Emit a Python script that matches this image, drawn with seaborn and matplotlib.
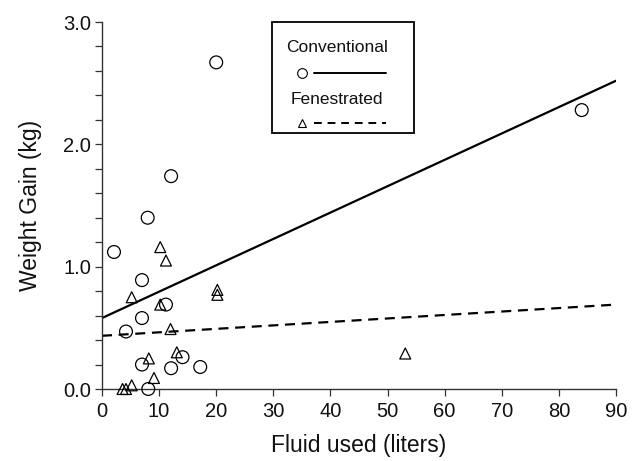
import numpy as np
import pandas as pd
import matplotlib
matplotlib.use("Agg")
import matplotlib.pyplot as plt
import seaborn as sns
from matplotlib.patches import Rectangle
from matplotlib.lines import Line2D
from matplotlib.ticker import MultipleLocator, FormatStrFormatter

# ---- data ----
conv_fluid = [2.1, 4.2, 7.0, 7.0, 7.0, 8.0, 8.1, 11.2, 12.1, 12.1, 14.1, 17.2, 20.0, 84.0]
conv_gain = [1.12, 0.47, 0.89, 0.58, 0.20, 1.40, 0.00, 0.69, 1.74, 0.17, 0.26, 0.18, 2.67, 2.28]
fen_fluid = [3.6, 4.2, 5.2, 5.2, 8.2, 9.1, 10.2, 10.2, 11.2, 12.0, 13.1, 20.2, 20.2, 53.1]
fen_gain = [0.00, 0.00, 0.03, 0.75, 0.25, 0.09, 1.16, 0.69, 1.05, 0.49, 0.30, 0.81, 0.77, 0.29]

fit_x = [0, 90]
conv_fit_y = [0.58, 2.52]
fen_fit_y = [0.435, 0.69]

x_ticks = [0, 10, 20, 30, 40, 50, 60, 70, 80, 90]
y_ticks = [0.0, 1.0, 2.0, 3.0]
group_names = ["Conventional", "Fenestrated"]

sns.set_theme(style="white")
plt.rcParams["font.family"] = ["Liberation Sans", "DejaVu Sans"]

W, H = 632, 461
fig = plt.figure(figsize=(W / 100, H / 100), dpi=100)
ax = fig.add_axes([102 / W, 1 - 389 / H, 514 / W, 367 / H])

conv_df = pd.DataFrame({"fluid": conv_fluid, "gain": conv_gain})
fen_df = pd.DataFrame({"fluid": fen_fluid, "gain": fen_gain})

sns.scatterplot(data=conv_df, x="fluid", y="gain", marker="o", s=85,
                facecolor="none", edgecolor="black", linewidth=0.9,
                ax=ax, clip_on=False, zorder=3)
sns.scatterplot(data=fen_df, x="fluid", y="gain", marker="^", s=62,
                facecolor="none", edgecolor="black", linewidth=0.9,
                ax=ax, clip_on=False, zorder=3)

sns.lineplot(x=fit_x, y=conv_fit_y, color="black", linewidth=1.6, ax=ax)
sns.lineplot(x=fit_x, y=fen_fit_y, color="black", linewidth=1.6,
             linestyle=(0, (4.5, 3)), ax=ax)

ax.set_xlim(0, 90)
ax.set_ylim(0, 3.0)
ax.set_xticks(x_ticks)
ax.set_yticks(y_ticks)
ax.yaxis.set_major_formatter(FormatStrFormatter("%.1f"))
ax.yaxis.set_minor_locator(MultipleLocator(0.2))

for s in ["top", "right"]:
    ax.spines[s].set_visible(False)
for s in ["left", "bottom"]:
    ax.spines[s].set_color("#333333")
    ax.spines[s].set_linewidth(1.0)

ax.tick_params(axis="both", which="both", direction="out", length=5,
               width=0.9, color="#333333", labelsize=14.5, labelcolor="#111111")
ax.tick_params(axis="x", which="major", bottom=True, pad=4)
ax.tick_params(axis="y", which="both", left=True, pad=3)

ax.set_xlabel("Fluid used (liters)", fontsize=16.5, color="#111111", labelpad=9.5)
ax.set_ylabel("Weight Gain (kg)", fontsize=16.5, color="#111111", labelpad=15)

# ---- custom legend box ----
def fx(px):
    return px / W

def fy(py):
    return 1 - py / H

fig.add_artist(Rectangle((fx(272), fy(133)), fx(414) - fx(272), fy(22) - fy(133),
                         transform=fig.transFigure, fill=False,
                         edgecolor="black", linewidth=1.3))
fig.text(fx(337), fy(48), group_names[0], ha="center", va="center",
         fontsize=12.5, color="#111111")
fig.text(fx(337), fy(100), group_names[1], ha="center", va="center",
         fontsize=12.5, color="#111111")
fig.add_artist(Line2D([fx(302)], [fy(73)], transform=fig.transFigure,
                      marker="o", markersize=7, markerfacecolor="none",
                      markeredgecolor="black", markeredgewidth=0.8, linestyle="none"))
fig.add_artist(Line2D([fx(314), fx(386)], [fy(73), fy(73)], transform=fig.transFigure,
                      color="black", linewidth=1.4))
fig.add_artist(Line2D([fx(302)], [fy(123)], transform=fig.transFigure,
                      marker="^", markersize=6, markerfacecolor="none",
                      markeredgecolor="black", markeredgewidth=0.8, linestyle="none"))
fig.add_artist(Line2D([fx(314), fx(386)], [fy(123), fy(123)], transform=fig.transFigure,
                      color="black", linewidth=1.4, linestyle=(0, (4, 3))))

fig.savefig("out.png", dpi=100)
